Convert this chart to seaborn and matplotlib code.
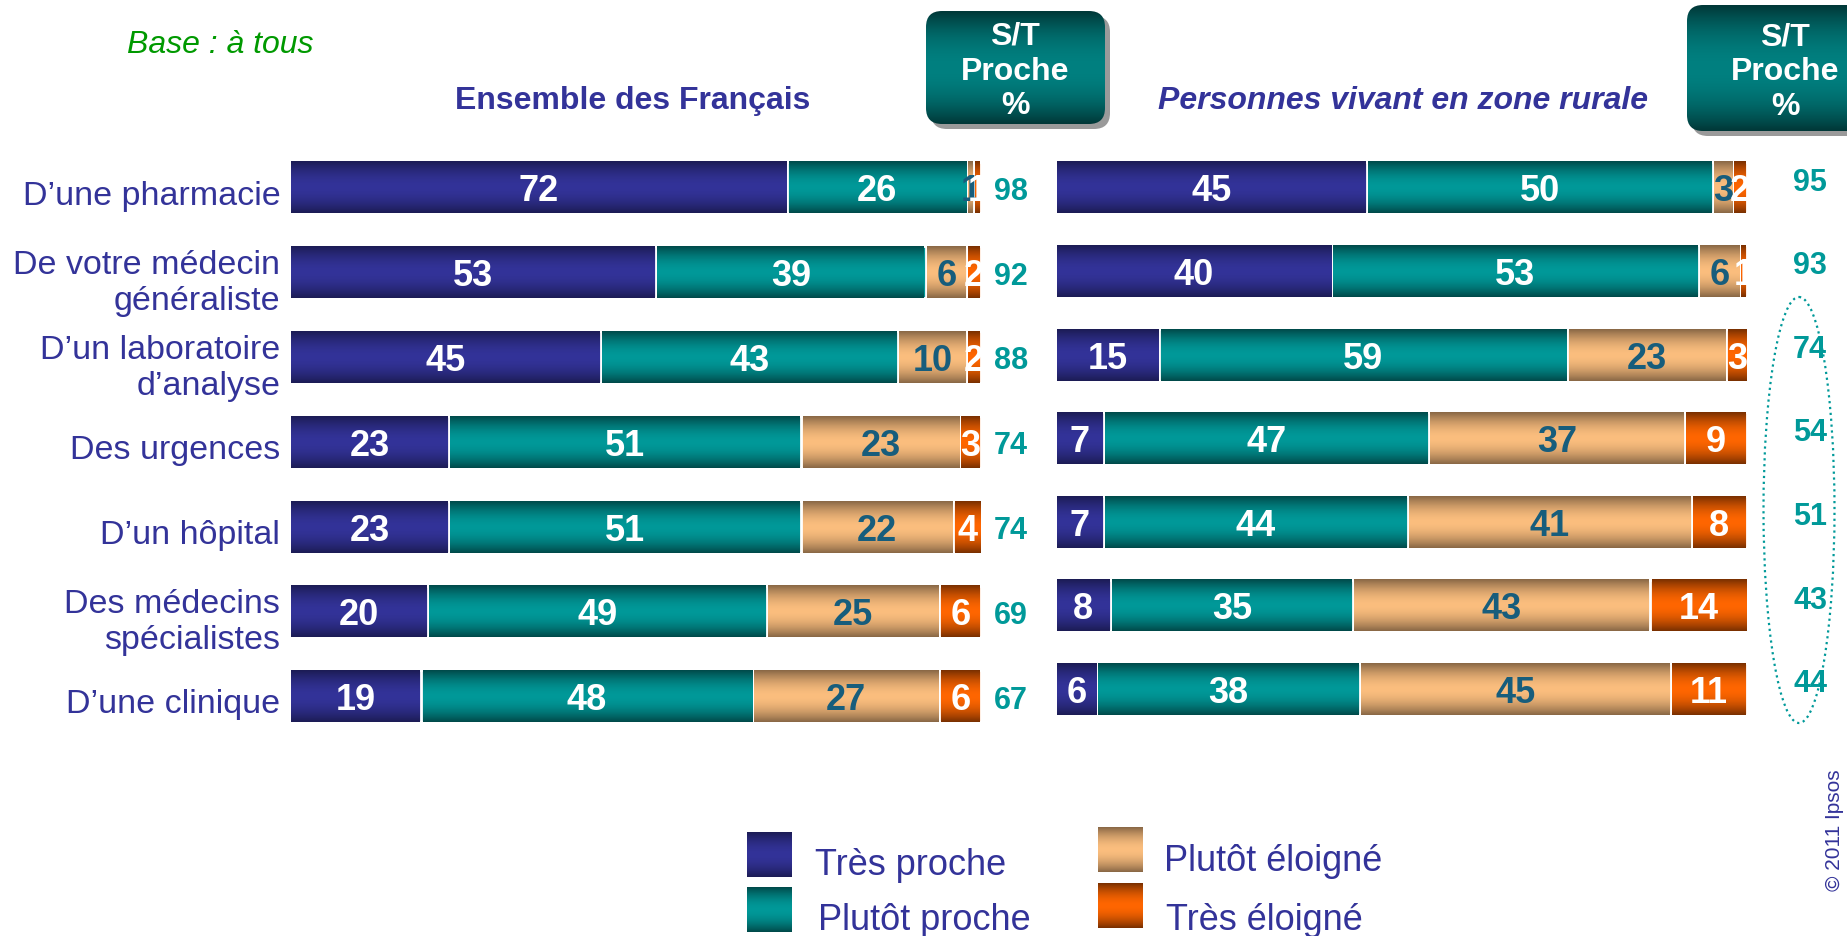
import numpy as np
import pandas as pd
import matplotlib
matplotlib.use("Agg")
import matplotlib.pyplot as plt
from matplotlib.patches import FancyBboxPatch, Ellipse
from matplotlib.colors import to_rgb
from matplotlib.transforms import ScaledTranslation
import seaborn as sns

# data
items = ["D’une pharmacie", "De votre médecin\ngénéraliste", "D’un laboratoire\nd’analyse",
         "Des urgences", "D’un hôpital", "Des médecins\nspécialistes", "D’une clinique"]
categories = ["Très proche", "Plutôt proche", "Plutôt éloigné", "Très éloigné"]

all_tres_proche = [72, 53, 45, 23, 23, 20, 19]
all_plutot_proche = [26, 39, 43, 51, 51, 49, 48]
all_plutot_eloigne = [1, 6, 10, 23, 22, 25, 27]
all_tres_eloigne = [1, 2, 2, 3, 4, 6, 6]
all_st_proche = [98, 92, 88, 74, 74, 69, 67]

rural_tres_proche = [45, 40, 15, 7, 7, 8, 6]
rural_plutot_proche = [50, 53, 59, 47, 44, 35, 38]
rural_plutot_eloigne = [3, 6, 23, 37, 41, 43, 45]
rural_tres_eloigne = [2, 1, 3, 9, 8, 14, 11]
rural_st_proche = [95, 93, 74, 54, 51, 43, 44]

bright = ["#333399", "#009999", "#FBBE7E", "#FF6600"]
dark = ["#1C1C55", "#004A4A", "#8A6846", "#7A3000"]
text_cols = ["white", "white", "#175d7c", "white"]
blue = "#333399"
teal = "#009999"

sns.set_style("white")
plt.rcParams["font.family"] = ["Liberation Sans", "DejaVu Sans"]


def vgrad(c_mid, c_edge, n=64, p=1.8):
    # vertical gradient: dark at top and bottom, bright in the middle
    t = np.linspace(0, 1, n)
    m = (np.abs(2 * t - 1) ** p)[:, None, None]
    return (1 - m) * np.array(to_rgb(c_mid)) + m * np.array(to_rgb(c_edge))


def draw_panel(ax, parts, st, st_x, st_dy, bar_w):
    df = pd.DataFrame(dict(zip(categories, parts)))
    df["item"] = items
    cum = df[categories].cumsum(axis=1)
    for k in range(3, -1, -1):
        sns.barplot(x=cum[categories[k]], y=df["item"], orient="h", color=bright[k],
                    saturation=1, edgecolor="white", linewidth=2, width=bar_w,
                    errorbar=None, ax=ax)
    gap = 0.18
    for i in range(len(items)):
        left = 0
        for k, cat in enumerate(categories):
            v = df.loc[i, cat]
            right = cum.loc[i, cat]
            ax.imshow(vgrad(bright[k], dark[k]), extent=(left + gap, right - gap, i + bar_w / 2, i - bar_w / 2),
                      aspect="auto", interpolation="bilinear", zorder=3)
            ax.text((left + right) / 2, i + 0.04, str(v), ha="center", va="center", color=text_cols[k],
                    fontsize=26, fontweight="bold", zorder=5)
            left = right
        ax.text(st_x, i + st_dy + 0.04, str(st[i]), ha="center", va="center", color=teal,
                fontsize=22, fontweight="bold", clip_on=False)
    ax.set_xlim(0, 100)
    ax.set_ylim(len(items) - 0.5, -0.5)
    ax.set_xticks([])
    ax.set_xlabel("")
    ax.set_ylabel("")
    sns.despine(ax=ax, left=True, bottom=True)


fig = plt.figure(figsize=(18.47, 9.37), dpi=100)

ax1 = fig.add_axes([0.1570, 0.2106, 0.3741, 0.6335])
draw_panel(ax1, [all_tres_proche, all_plutot_proche, all_plutot_eloigne, all_tres_eloigne],
           all_st_proche, 104.3, 0.0, 0.61)
ax1.tick_params(axis="y", length=0, pad=7, labelsize=24.5, labelcolor=blue)
shift = ScaledTranslation(0, -3 / 72, fig.dpi_scale_trans)
for lab in ax1.get_yticklabels():
    lab.set_transform(lab.get_transform() + shift)

ax2 = fig.add_axes([0.5715, 0.2189, 0.3744, 0.6246])
draw_panel(ax2, [rural_tres_proche, rural_plutot_proche, rural_plutot_eloigne, rural_tres_eloigne],
           rural_st_proche, 109.1, -0.11, 0.62)
ax2.set_yticks([])

# overlay in pixel coordinates for headers, boxes and legend
ov = fig.add_axes([0, 0, 1, 1])
ov.set_xlim(0, 1847)
ov.set_ylim(937, 0)
ov.axis("off")
ov.patch.set_alpha(0)

ov.text(127, 45, "Base : à tous", color="#009900", style="italic", fontsize=23, va="center", ha="left")
ov.text(633, 101, "Ensemble des Français", color=blue, fontweight="bold", fontsize=23, ha="center", va="center")
ov.text(1403, 101, "Personnes vivant en zone rurale", color=blue, fontweight="bold", style="italic",
        fontsize=23, ha="center", va="center")

for (x0, y0, w, h, tx) in [(926, 12, 179, 113, 1015), (1687, 6, 190, 126, 1785)]:
    shadow = FancyBboxPatch((x0 + 5, y0 + 5), w, h, boxstyle="round,pad=0,rounding_size=16",
                            facecolor="#9a9a9a", edgecolor="none", zorder=1)
    ov.add_patch(shadow)
    box = FancyBboxPatch((x0, y0), w, h, boxstyle="round,pad=0,rounding_size=16",
                         facecolor="none", edgecolor="none", zorder=2)
    ov.add_patch(box)
    im = ov.imshow(vgrad("#008080", "#003838", p=2.0), extent=(x0, x0 + w, y0 + h, y0),
                   aspect="auto", interpolation="bilinear", zorder=2)
    im.set_clip_path(box)
    ov.text(tx, y0 + h / 2 + 3, "S/T\nProche\n%", color="white", fontweight="bold", fontsize=23,
            ha="center", va="center", linespacing=1.2, zorder=3)

ov.add_patch(Ellipse((1799, 511), 71, 426, facecolor="none", edgecolor=teal, linestyle=":", linewidth=1.6))

# legend with gradient squares
legend_pos = [(747, 833, 815, 866), (747, 888, 818, 921), (1098, 828, 1164, 862), (1098, 884, 1166, 921)]
for k, (sx, sy, lx, ly) in enumerate(legend_pos):
    ov.imshow(vgrad(bright[k], dark[k]), extent=(sx, sx + 45, sy + 45, sy), aspect="auto",
              interpolation="bilinear", zorder=2)
    ov.text(lx, ly, categories[k], color=blue, fontsize=26, ha="left", va="center")

ov.text(1835, 830, "© 2011 Ipsos", color=blue, fontsize=15, rotation=90, ha="center", va="center")
ov.set_xlim(0, 1847)
ov.set_ylim(937, 0)

plt.savefig("out.png", dpi=100)
